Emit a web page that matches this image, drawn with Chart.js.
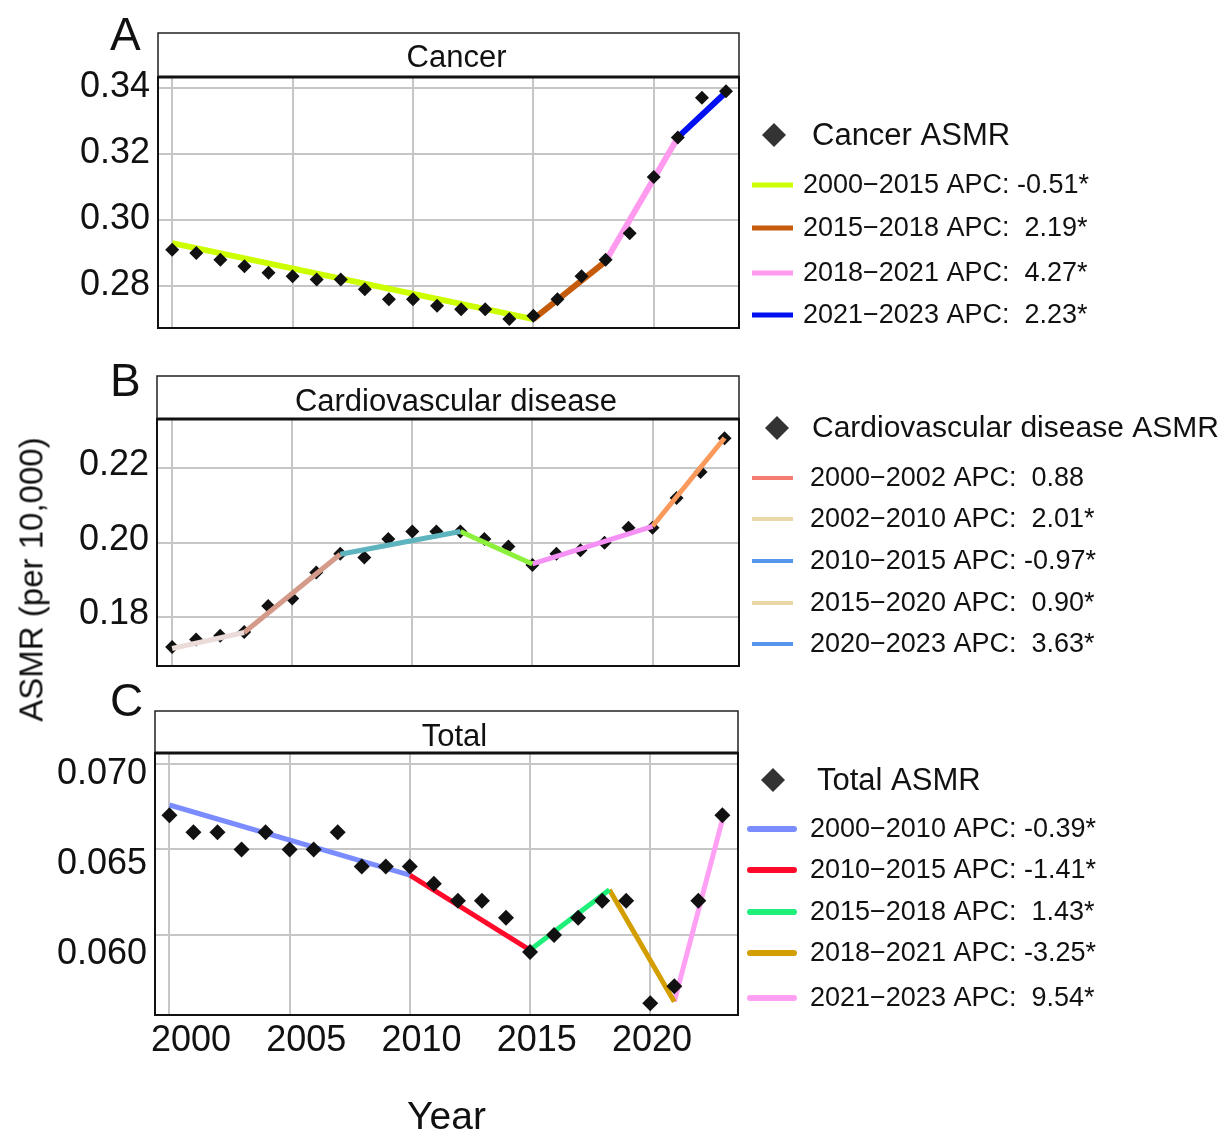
<!DOCTYPE html>
<html>
<head>
<meta charset="utf-8">
<script src="https://cdn.jsdelivr.net/npm/chart.js@4.4.1/dist/chart.umd.min.js"></script>
<style>
  html, body { margin: 0; padding: 0; background: #fff; }
  #wrap { position: relative; width: 1229px; height: 1133px; overflow: hidden;
          font-family: "Liberation Sans", Arial, Helvetica, sans-serif; color: #111; }
  canvas { position: absolute; left: 0; }
  .letter { position: absolute; font-size: 46px; line-height: 1; }
  #ytitle { position: absolute; left: -169px; top: 563px; width: 400px; text-align: center;
            font-size: 33px; line-height: 33px; transform: rotate(-90deg); white-space: nowrap; }
</style>
</head>
<body>
<div id="wrap">
  <canvas id="cancer" width="1229" height="340" style="top:0px"></canvas>
  <canvas id="cvd" width="1229" height="340" style="top:340px"></canvas>
  <canvas id="total" width="1229" height="453" style="top:680px"></canvas>
  <div class="letter" style="left:110px;top:11px">A</div>
  <div class="letter" style="left:110px;top:357px">B</div>
  <div class="letter" style="left:110px;top:677px">C</div>
  <div id="ytitle">ASMR (per 10,000)</div>
</div>
<script>
const years = [2000, 2001, 2002, 2003, 2004, 2005, 2006, 2007, 2008, 2009, 2010, 2011,
               2012, 2013, 2014, 2015, 2016, 2017, 2018, 2019, 2020, 2021, 2022, 2023];
const cancerAsmr = [0.291, 0.290, 0.288, 0.286, 0.284, 0.283, 0.282, 0.282, 0.279, 0.276, 0.276, 0.274,
                    0.273, 0.273, 0.270, 0.271, 0.276, 0.283, 0.288, 0.296, 0.313, 0.325, 0.337, 0.339];
const cvdAsmr = [0.172, 0.174, 0.175, 0.176, 0.183, 0.185, 0.192, 0.197, 0.196, 0.201, 0.203, 0.203,
                 0.203, 0.201, 0.199, 0.194, 0.197, 0.198, 0.200, 0.204, 0.204, 0.212, 0.219, 0.228];
const totalAsmr = [0.067, 0.066, 0.066, 0.065, 0.066, 0.065, 0.065, 0.066, 0.064, 0.064, 0.064, 0.063,
                   0.062, 0.062, 0.061, 0.059, 0.060, 0.061, 0.062, 0.062, 0.056, 0.057, 0.062, 0.067];

// joinpoint fitted segments (as drawn)
const cancerJoinYears = [2000, 2015, 2018, 2021, 2023];
const cancerJoinFit = [0.2930, 0.2700, 0.2875, 0.3250, 0.3387];
const cvdJoinYears = [2000, 2003, 2007, 2012, 2015, 2020, 2023];
const cvdJoinFit = [0.1716, 0.1759, 0.1969, 0.2030, 0.1943, 0.2044, 0.2281];
const totalJoinYears = [2000, 2010, 2015, 2018.3, 2021, 2023];
const totalJoinFit = [0.0676, 0.0635, 0.05912, 0.06265, 0.0561, 0.06673];

const cancerSegColors = ['#CCFF00', '#C45C0C', '#FF9AEE', '#0010F0'];
const cvdSegColors = ['#EBDCDA', '#D49A8A', '#5DB4BE', '#8CF03C', '#F590F5', '#F99A5C'];
const totalSegColors = ['#7A8CFF', '#FF0A2A', '#1EF07A', '#D29E00', '#FFA0F5'];

// legends
const cancerLegend = ['2000\u22122015 APC: -0.51*', '2015\u22122018 APC:  2.19*',
                      '2018\u22122021 APC:  4.27*', '2021\u22122023 APC:  2.23*'];
const cancerLegendColors = ['#CCFF00', '#C45C0C', '#FF9AEE', '#0010F0'];
const cvdLegend = ['2000\u22122002 APC:  0.88', '2002\u22122010 APC:  2.01*', '2010\u22122015 APC: -0.97*',
                   '2015\u22122020 APC:  0.90*', '2020\u22122023 APC:  3.63*'];
const cvdLegendColors = ['#F47C70', '#E9D7A6', '#5695EE', '#E9D7A6', '#5695EE'];
const totalLegend = ['2000\u22122010 APC: -0.39*', '2010\u22122015 APC: -1.41*', '2015\u22122018 APC:  1.43*',
                     '2018\u22122021 APC: -3.25*', '2021\u22122023 APC:  9.54*'];
const totalLegendColors = ['#7A8CFF', '#FF0A2A', '#1EF07A', '#D29E00', '#FFA0F5'];

// ticks
const xTicks = [2000, 2005, 2010, 2015, 2020];
const xTickLabels = ['2000', '2005', '2010', '2015', '2020'];
const cancerTicks = [0.28, 0.30, 0.32, 0.34];
const cancerTickLabels = ['0.28', '0.30', '0.32', '0.34'];
const cvdTicks = [0.18, 0.20, 0.22];
const cvdTickLabels = ['0.18', '0.20', '0.22'];
const totalTicks = [0.060, 0.065, 0.070];
const totalTickLabels = ['0.060', '0.065', '0.070'];

const FONT = '"Liberation Sans", Arial, Helvetica, sans-serif';
Chart.defaults.font.family = FONT;
Chart.defaults.color = '#111';
Chart.defaults.animation = false;

const setTicks = values => axis => { axis.ticks = values.map(v => ({ value: v })); };
// fixed axis sizes, and no extra label padding pushed into the layout
const fixWidth = w => axis => { axis.width = w; axis.paddingTop = 0; axis.paddingBottom = 0; };
const fixHeight = h => axis => { axis.height = h; axis.paddingLeft = 0; axis.paddingRight = 0; };
const grid = { color: '#C6C6C6', lineWidth: 2, drawTicks: false };

// strip title above the plot + black frame
const stripPlugin = {
  id: 'strip',
  afterDraw(chart, args, o) {
    const { ctx, chartArea: a } = chart;
    ctx.save();
    ctx.fillStyle = '#fff';
    ctx.fillRect(a.left, o.top, a.right - a.left, a.top - o.top);
    ctx.strokeStyle = '#222';
    ctx.lineWidth = 1.5;
    ctx.strokeRect(a.left, o.top, a.right - a.left, a.top - o.top);
    ctx.strokeStyle = '#111';
    ctx.lineWidth = 2;
    ctx.strokeRect(a.left, a.top, a.right - a.left, a.bottom - a.top);
    ctx.lineWidth = 3;
    ctx.beginPath();
    ctx.moveTo(a.left, a.top);
    ctx.lineTo(a.right, a.top);
    ctx.stroke();
    ctx.fillStyle = '#111';
    ctx.font = '31px ' + FONT;
    ctx.textAlign = 'center';
    ctx.textBaseline = 'middle';
    ctx.fillText(o.text, (a.left + a.right) / 2 + 8, o.textY);
    ctx.restore();
  }
};

// legend to the right of each panel
const sideLegend = {
  id: 'sideLegend',
  afterDraw(chart, args, o) {
    const ctx = chart.ctx;
    ctx.save();
    ctx.fillStyle = '#333';
    ctx.beginPath();
    ctx.moveTo(o.dx, o.hy - 12);
    ctx.lineTo(o.dx + 12, o.hy);
    ctx.lineTo(o.dx, o.hy + 12);
    ctx.lineTo(o.dx - 12, o.hy);
    ctx.closePath();
    ctx.fill();
    ctx.fillStyle = '#111';
    ctx.textBaseline = 'middle';
    ctx.textAlign = 'left';
    ctx.font = o.headSize + 'px ' + FONT;
    ctx.fillText(o.header, o.hx, o.hy + 1);
    ctx.font = '27px ' + FONT;
    o.texts.forEach((t, i) => {
      const y = o.rows[i];
      ctx.strokeStyle = o.colors[i];
      ctx.lineWidth = o.lw;
      ctx.lineCap = o.cap;
      ctx.beginPath();
      ctx.moveTo(o.x0, y);
      ctx.lineTo(o.x1, y);
      ctx.stroke();
      ctx.fillText(t, o.tx, y + 1);
    });
    ctx.restore();
  }
};

function buildDatasets(values, joinYears, joinFit, segColors, lineW, marker, linesOnTop) {
  const ds = [{
    label: 'ASMR',
    data: years.map((yr, i) => ({ x: yr, y: values[i] })),
    pointStyle: 'rectRot', pointRadius: marker, pointHoverRadius: marker,
    backgroundColor: '#111', borderWidth: 0, order: linesOnTop ? 5 : 0
  }];
  joinYears.slice(0, -1).forEach((yr, i) => {
    ds.push({
      label: 'segment ' + (i + 1),
      data: [{ x: yr, y: joinFit[i] }, { x: joinYears[i + 1], y: joinFit[i + 1] }],
      showLine: true, pointRadius: 0, borderColor: segColors[i], borderWidth: lineW,
      borderCapStyle: 'butt', order: 2
    });
  });
  return ds;
}

// A: Cancer
new Chart(document.getElementById('cancer'), {
  type: 'scatter',
  data: { datasets: buildDatasets(cancerAsmr, cancerJoinYears, cancerJoinFit, cancerSegColors, 6, 7, false) },
  options: {
    responsive: false,
    layout: { padding: { top: 77, bottom: 12, left: 0, right: 490 } },
    plugins: {
      legend: { display: false }, tooltip: { enabled: false },
      strip: { top: 33, text: 'Cancer', textY: 58 },
      sideLegend: { header: 'Cancer ASMR', headSize: 31, dx: 774, hx: 812, hy: 135, rows: [185, 228, 273, 315],
                    texts: cancerLegend, colors: cancerLegendColors, x0: 752, x1: 793, tx: 803, lw: 5, cap: 'butt' }
    },
    scales: {
      x: { type: 'linear', min: 1999.41, max: 2023.54, afterBuildTicks: setTicks(xTicks), afterFit: fixHeight(0),
           grid, border: { display: false }, ticks: { display: false } },
      y: { type: 'linear', min: 0.2673, max: 0.3433, afterBuildTicks: setTicks(cancerTicks), afterFit: fixWidth(158),
           grid, border: { display: false },
           ticks: { font: { size: 36 }, padding: 8, labelOffset: -1, callback: (v, i) => cancerTickLabels[i] } }
    }
  },
  plugins: [stripPlugin, sideLegend]
});

// B: Cardiovascular disease
new Chart(document.getElementById('cvd'), {
  type: 'scatter',
  data: { datasets: buildDatasets(cvdAsmr, cvdJoinYears, cvdJoinFit, cvdSegColors, 5, 7, true) },
  options: {
    responsive: false,
    layout: { padding: { top: 79, bottom: 14, left: 0, right: 490 } },
    plugins: {
      legend: { display: false }, tooltip: { enabled: false },
      strip: { top: 36, text: 'Cardiovascular disease', textY: 62 },
      sideLegend: { header: 'Cardiovascular disease ASMR', headSize: 30, dx: 777, hx: 812, hy: 88,
                    rows: [138, 179, 221, 263, 304],
                    texts: cvdLegend, colors: cvdLegendColors, x0: 752, x1: 793, tx: 810, lw: 4, cap: 'butt' }
    },
    scales: {
      x: { type: 'linear', min: 1999.37, max: 2023.6, afterBuildTicks: setTicks(xTicks), afterFit: fixHeight(0),
           grid, border: { display: false }, ticks: { display: false } },
      y: { type: 'linear', min: 0.1669, max: 0.2332, afterBuildTicks: setTicks(cvdTicks), afterFit: fixWidth(157),
           grid, border: { display: false },
           ticks: { font: { size: 36 }, padding: 8, labelOffset: -3, callback: (v, i) => cvdTickLabels[i] } }
    }
  },
  plugins: [stripPlugin, sideLegend]
});

// C: Total
new Chart(document.getElementById('total'), {
  type: 'scatter',
  data: { datasets: buildDatasets(totalAsmr, totalJoinYears, totalJoinFit, totalSegColors, 5, 8, false) },
  options: {
    responsive: false,
    layout: { padding: { top: 73, bottom: 0, left: 0, right: 491 } },
    plugins: {
      legend: { display: false }, tooltip: { enabled: false },
      strip: { top: 31, text: 'Total', textY: 57 },
      sideLegend: { header: 'Total ASMR', headSize: 31, dx: 773, hx: 817, hy: 100, rows: [149, 190, 232, 273, 318],
                    texts: totalLegend, colors: totalLegendColors, x0: 750, x1: 794, tx: 810, lw: 6, cap: 'round' }
    },
    scales: {
      x: { type: 'linear', min: 1999.4, max: 2023.65, weight: 0, afterBuildTicks: setTicks(xTicks), afterFit: fixHeight(0),
           grid, border: { display: false }, ticks: { display: false } },
      xLab: { type: 'linear', position: 'bottom', weight: 1, min: 1998.438, max: 2023.731,
              afterBuildTicks: setTicks(xTicks), afterFit: fixHeight(118),
              grid: { display: false, drawTicks: false }, border: { display: false },
              ticks: { font: { size: 36 }, padding: 4, maxRotation: 0, callback: (v, i) => xTickLabels[i] },
              title: { display: true, text: 'Year', font: { size: 39, lineHeight: 0.75 }, padding: 0 } },
      y: { type: 'linear', min: 0.05532, max: 0.07064, weight: 0, afterBuildTicks: setTicks(totalTicks), afterFit: fixWidth(0),
           grid, border: { display: false }, ticks: { display: false } },
      yLab: { type: 'linear', position: 'left', weight: 1, min: 0.056478, max: 0.071057,
              afterBuildTicks: setTicks(totalTicks), afterFit: fixWidth(155),
              grid: { display: false, drawTicks: false }, border: { display: false },
              ticks: { font: { size: 36 }, padding: 8, labelOffset: 2, callback: (v, i) => totalTickLabels[i] } }
    }
  },
  plugins: [stripPlugin, sideLegend]
});
</script>
</body>
</html>
